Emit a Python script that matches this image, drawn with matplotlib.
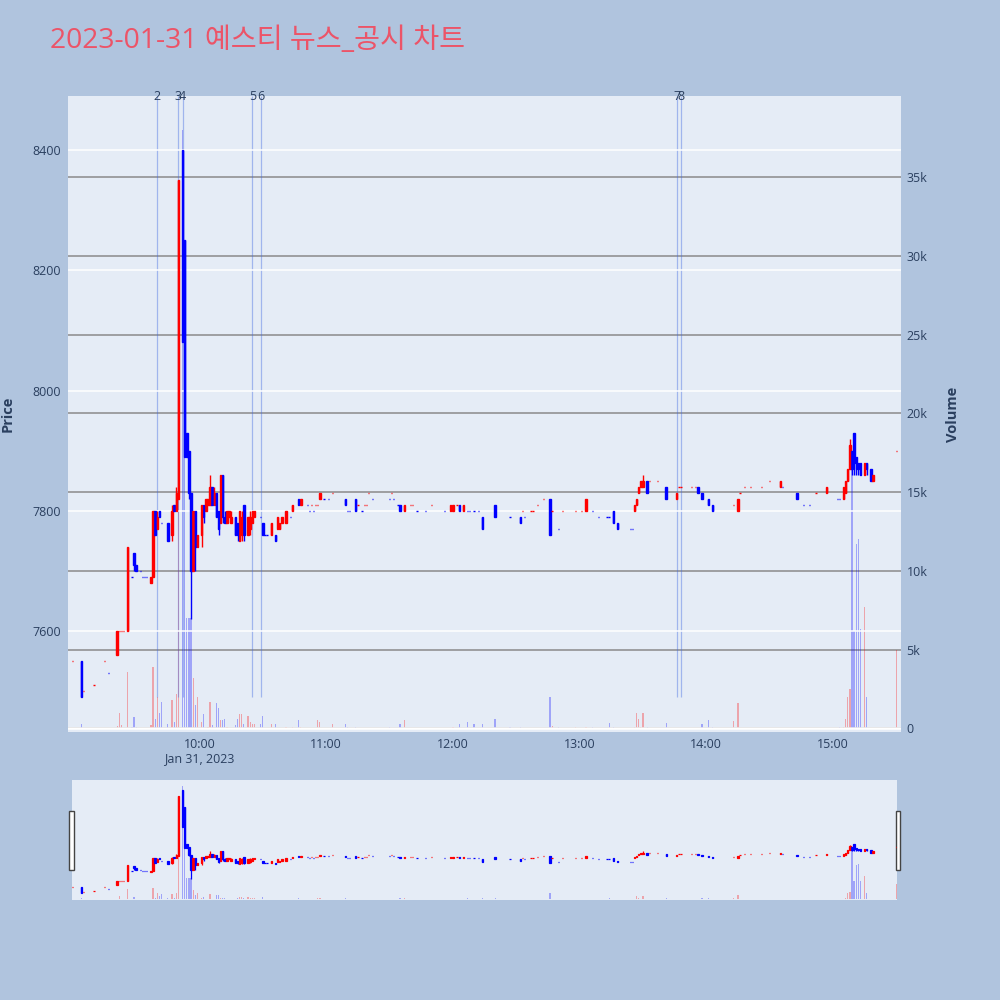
import matplotlib
matplotlib.use("Agg")
import matplotlib.pyplot as plt
import matplotlib.dates as mdates
import matplotlib.transforms as mtransforms
from matplotlib.patches import Rectangle
from matplotlib.ticker import FixedLocator, FuncFormatter
import pandas as pd

plt.rcParams["font.family"] = ["Open Sans", "DejaVu Sans"]

day = "2023-01-31"
title = "2023-01-31 예스티 뉴스_공시 차트"

# 1-minute candles (only minutes with trades)
times = [
    "09:00", "09:04", "09:05", "09:10", "09:15", "09:17", "09:21", "09:22", "09:23", "09:24",
    "09:26", "09:28", "09:29", "09:30", "09:32", "09:33", "09:34", "09:35", "09:37", "09:38",
    "09:39", "09:40", "09:41", "09:42", "09:45", "09:47", "09:48", "09:49", "09:50", "09:52",
    "09:53", "09:54", "09:55", "09:56", "09:57", "09:58", "09:59", "10:01", "10:02", "10:03",
    "10:04", "10:05", "10:06", "10:07", "10:08", "10:09", "10:10", "10:11", "10:12", "10:13",
    "10:14", "10:15", "10:17", "10:18", "10:19", "10:20", "10:21", "10:23", "10:24", "10:25",
    "10:26", "10:29", "10:30", "10:31", "10:32", "10:34", "10:36", "10:37", "10:38", "10:39",
    "10:41", "10:43", "10:44", "10:47", "10:48", "10:51", "10:52", "10:53", "10:54", "10:55",
    "10:56", "10:57", "10:59", "11:01", "11:03", "11:09", "11:10", "11:11", "11:14", "11:15",
    "11:17", "11:18", "11:19", "11:20", "11:22", "11:30", "11:31", "11:32", "11:34", "11:35",
    "11:37", "11:40", "11:41", "11:43", "11:47", "11:50", "11:56", "11:59", "12:00", "12:02",
    "12:03", "12:05", "12:07", "12:08", "12:10", "12:12", "12:14", "12:20", "12:27", "12:32",
    "12:33", "12:34", "12:37", "12:38", "12:40", "12:43", "12:46", "12:47", "12:50", "12:52",
    "12:58", "13:01", "13:03", "13:06", "13:09", "13:13", "13:14", "13:16", "13:18", "13:24",
    "13:25", "13:26", "13:27", "13:28", "13:29", "13:30", "13:32", "13:33", "13:37", "13:41",
    "13:46", "13:47", "13:48", "13:53", "13:55", "13:56", "13:58", "14:01", "14:03", "14:13",
    "14:15", "14:16", "14:18", "14:21", "14:26", "14:30", "14:35", "14:36", "14:43", "14:46",
    "14:49", "14:52", "14:57", "15:02", "15:03", "15:05", "15:06", "15:07", "15:08", "15:09",
    "15:10", "15:11", "15:12", "15:13", "15:15", "15:16", "15:18", "15:19", "15:30",
]
opens = [
    7550, 7550, 7500, 7510, 7550, 7530, 7560, 7600, 7600, 7600,
    7600, 7690, 7730, 7710, 7700, 7690, 7690, 7690, 7680, 7690,
    7800, 7770, 7800, 7780, 7780, 7760, 7810, 7800, 7820, 8400,
    8250, 7930, 7900, 7830, 7700, 7800, 7740, 7760, 7810, 7800,
    7810, 7810, 7840, 7810, 7830, 7800, 7780, 7860, 7790, 7780,
    7790, 7780, 7790, 7780, 7750, 7760, 7810, 7760, 7770, 7780,
    7790, 7790, 7780, 7760, 7760, 7760, 7760, 7770, 7770, 7780,
    7780, 7790, 7800, 7820, 7810, 7810, 7800, 7810, 7800, 7810,
    7810, 7820, 7820, 7820, 7830, 7820, 7800, 7800, 7820, 7810,
    7800, 7810, 7810, 7830, 7820, 7820, 7830, 7820, 7810, 7810,
    7800, 7810, 7810, 7800, 7800, 7810, 7800, 7800, 7800, 7810,
    7810, 7800, 7800, 7800, 7800, 7800, 7790, 7810, 7790, 7790,
    7800, 7790, 7800, 7800, 7810, 7820, 7820, 7800, 7770, 7800,
    7800, 7800, 7800, 7800, 7790, 7790, 7790, 7800, 7780, 7770,
    7770, 7800, 7810, 7830, 7840, 7840, 7850, 7850, 7850, 7840,
    7820, 7840, 7840, 7840, 7840, 7840, 7830, 7820, 7810, 7810,
    7800, 7830, 7840, 7840, 7840, 7850, 7840, 7840, 7830, 7810,
    7810, 7830, 7830, 7820, 7820, 7820, 7830, 7850, 7870, 7900,
    7930, 7890, 7880, 7880, 7860, 7880, 7870, 7850, 7900,
]
highs = [
    7550, 7550, 7500, 7510, 7550, 7530, 7600, 7600, 7600, 7600,
    7740, 7690, 7730, 7710, 7700, 7690, 7690, 7690, 7690, 7800,
    7800, 7800, 7800, 7780, 7780, 7810, 7810, 7840, 8350, 8400,
    8250, 7930, 7900, 7830, 7800, 7800, 7760, 7810, 7810, 7820,
    7820, 7860, 7840, 7840, 7830, 7800, 7860, 7860, 7800, 7800,
    7800, 7800, 7790, 7780, 7800, 7800, 7810, 7790, 7800, 7800,
    7800, 7790, 7780, 7760, 7760, 7780, 7760, 7790, 7780, 7790,
    7800, 7790, 7810, 7820, 7820, 7810, 7800, 7810, 7800, 7810,
    7810, 7830, 7820, 7820, 7830, 7820, 7800, 7800, 7820, 7810,
    7800, 7810, 7810, 7830, 7820, 7820, 7830, 7820, 7810, 7810,
    7810, 7810, 7810, 7800, 7800, 7810, 7800, 7810, 7810, 7810,
    7810, 7810, 7800, 7800, 7800, 7800, 7790, 7810, 7790, 7790,
    7800, 7790, 7800, 7800, 7810, 7820, 7820, 7800, 7770, 7800,
    7800, 7800, 7820, 7800, 7790, 7790, 7790, 7800, 7780, 7770,
    7770, 7810, 7820, 7840, 7850, 7860, 7850, 7850, 7850, 7840,
    7830, 7840, 7840, 7840, 7840, 7840, 7830, 7820, 7810, 7810,
    7820, 7830, 7840, 7840, 7840, 7850, 7850, 7840, 7830, 7810,
    7810, 7830, 7840, 7820, 7820, 7840, 7850, 7870, 7920, 7900,
    7930, 7890, 7880, 7880, 7880, 7880, 7870, 7860, 7900,
]
lows = [
    7550, 7490, 7500, 7510, 7550, 7530, 7560, 7600, 7600, 7600,
    7600, 7690, 7700, 7700, 7700, 7690, 7690, 7690, 7680, 7690,
    7760, 7770, 7790, 7780, 7750, 7750, 7800, 7800, 7820, 8080,
    7890, 7890, 7820, 7620, 7700, 7700, 7740, 7740, 7780, 7800,
    7810, 7810, 7810, 7810, 7790, 7760, 7780, 7780, 7780, 7780,
    7790, 7780, 7760, 7750, 7750, 7750, 7750, 7760, 7760, 7780,
    7790, 7790, 7760, 7760, 7760, 7760, 7750, 7770, 7770, 7780,
    7780, 7790, 7800, 7810, 7810, 7810, 7800, 7810, 7800, 7810,
    7810, 7820, 7820, 7820, 7830, 7810, 7800, 7800, 7800, 7810,
    7800, 7810, 7810, 7830, 7820, 7820, 7830, 7820, 7810, 7800,
    7800, 7810, 7810, 7800, 7800, 7810, 7800, 7800, 7800, 7810,
    7800, 7800, 7800, 7800, 7800, 7800, 7770, 7790, 7790, 7780,
    7800, 7790, 7800, 7800, 7810, 7820, 7760, 7800, 7770, 7800,
    7800, 7800, 7800, 7800, 7790, 7790, 7790, 7780, 7770, 7770,
    7770, 7800, 7810, 7830, 7840, 7840, 7830, 7850, 7850, 7820,
    7820, 7840, 7840, 7840, 7840, 7830, 7820, 7810, 7800, 7810,
    7800, 7830, 7840, 7840, 7840, 7850, 7840, 7840, 7820, 7810,
    7810, 7830, 7830, 7820, 7820, 7820, 7830, 7850, 7870, 7860,
    7860, 7860, 7860, 7860, 7860, 7860, 7850, 7850, 7900,
]
closes = [
    7550, 7490, 7500, 7510, 7550, 7530, 7600, 7600, 7600, 7600,
    7740, 7690, 7710, 7700, 7700, 7690, 7690, 7690, 7690, 7800,
    7760, 7790, 7790, 7780, 7750, 7800, 7800, 7830, 8350, 8080,
    7890, 7890, 7830, 7700, 7800, 7740, 7760, 7810, 7790, 7820,
    7820, 7840, 7810, 7830, 7790, 7770, 7860, 7790, 7780, 7800,
    7800, 7790, 7760, 7760, 7800, 7790, 7760, 7790, 7790, 7800,
    7800, 7790, 7760, 7760, 7760, 7780, 7750, 7790, 7780, 7790,
    7800, 7790, 7810, 7810, 7820, 7810, 7800, 7810, 7800, 7810,
    7810, 7830, 7820, 7820, 7830, 7810, 7800, 7800, 7800, 7810,
    7800, 7810, 7810, 7830, 7820, 7820, 7830, 7820, 7810, 7800,
    7810, 7810, 7810, 7800, 7800, 7810, 7800, 7810, 7810, 7810,
    7800, 7810, 7800, 7800, 7800, 7800, 7770, 7790, 7790, 7780,
    7800, 7790, 7800, 7800, 7810, 7820, 7760, 7800, 7770, 7800,
    7800, 7800, 7820, 7800, 7790, 7790, 7790, 7780, 7770, 7770,
    7770, 7810, 7820, 7840, 7850, 7850, 7830, 7850, 7850, 7820,
    7830, 7840, 7840, 7840, 7840, 7830, 7820, 7810, 7800, 7810,
    7820, 7830, 7840, 7840, 7840, 7850, 7850, 7840, 7820, 7810,
    7810, 7830, 7840, 7820, 7820, 7840, 7850, 7870, 7910, 7870,
    7880, 7870, 7870, 7860, 7880, 7870, 7850, 7860, 7900,
]
volumes = [
    50, 300, 20, 20, 40, 30, 150, 950, 200, 30,
    3600, 100, 700, 100, 30, 30, 30, 30, 200, 3900,
    600, 2000, 950, 1700, 300, 1800, 400, 2200, 25000, 38000,
    18000, 7000, 7000, 7000, 3200, 1500, 2000, 400, 900, 50,
    100, 1700, 200, 50, 1600, 1300, 500, 500, 570, 100,
    50, 50, 200, 570, 900, 900, 300, 750, 400, 300,
    300, 250, 800, 50, 50, 250, 250, 50, 30, 30,
    100, 50, 100, 500, 100, 50, 30, 30, 30, 30,
    500, 400, 50, 50, 250, 300, 100, 30, 100, 30,
    30, 30, 30, 30, 30, 100, 30, 30, 50, 300,
    500, 30, 30, 50, 30, 30, 30, 50, 100, 50,
    250, 50, 400, 30, 250, 30, 300, 570, 100, 100,
    30, 30, 30, 30, 30, 30, 2000, 150, 100, 30,
    100, 50, 100, 100, 30, 30, 350, 100, 50, 30,
    30, 100, 1000, 600, 100, 1000, 100, 30, 30, 350,
    50, 30, 30, 50, 30, 30, 300, 500, 100, 450,
    1600, 30, 50, 30, 30, 30, 30, 30, 50, 30,
    30, 30, 30, 30, 100, 100, 600, 2000, 2500, 17000,
    6200, 11700, 12000, 6300, 7700, 2000, 50, 50, 5000,
]

news_times = ["09:40", "09:50", "09:52", "10:25", "10:29", "13:46", "13:48"]
news_labels = ["2", "3", "4", "5", "6", "7", "8"]

BG = "#B0C4DE"
PLOT_BG = "#E5ECF6"
FONT_C = "#2a3f5f"
RED, BLUE = "#FF0000", "#0000FF"

x = mdates.date2num(pd.to_datetime([f"{day} {t}" for t in times]))
news_x = mdates.date2num(pd.to_datetime([f"{day} {t}" for t in news_times]))
x0 = mdates.date2num(pd.Timestamp(f"{day} 09:00"))
minute = 1 / 1440

# direction like plotly: flat candle follows the previous close / direction
up = []
for i, (o, c) in enumerate(zip(opens, closes)):
    if c != o:
        up.append(c > o)
    elif i > 0 and c != closes[i - 1]:
        up.append(c > closes[i - 1])
    else:
        up.append(up[-1] if up else True)
cols = [RED if u else BLUE for u in up]
vcols = [(1, 0, 0, 0.3) if u else (0, 0, 1, 0.3) for u in up]
bottoms = [min(o, c) for o, c in zip(opens, closes)]
heights = [abs(c - o) for o, c in zip(opens, closes)]

price_lim = (7432, 8490)
vol_lim = (-235, 40143)


def draw(axp, axv, lw):
    axv.bar(x, volumes, width=0.6 * minute, color=vcols, linewidth=0)
    axp.vlines(x, lows, highs, colors=cols, linewidth=lw)
    axp.bar(x, heights, bottom=bottoms, width=0.65 * minute,
            color=cols, edgecolor=cols, linewidth=lw)
    axp.set_ylim(*price_lim)
    axv.set_ylim(*vol_lim)
    axp.set_zorder(axv.get_zorder() + 1)
    axp.patch.set_visible(False)
    axv.patch.set_visible(True)
    axv.patch.set_facecolor(PLOT_BG)
    for a in (axp, axv):
        for s in a.spines.values():
            s.set_visible(False)


fig = plt.figure(figsize=(10, 10), dpi=100, facecolor=BG)

# main chart
ax = fig.add_axes([0.068, 0.268, 0.833, 0.636])
ax2 = ax.twinx()
ax2.yaxis.grid(True, color="#8a8a8a", linewidth=1.1)
ax2.axhline(0, color="white", linewidth=1.8)
ax2.vlines(news_x, 2000, vol_lim[1], colors=[(65 / 255, 105 / 255, 225 / 255, 0.42)],
           linewidth=0.9)
draw(ax, ax2, 1.0)
ax.yaxis.grid(True, color="white", linewidth=1.1)
ax.set_axisbelow(True)
ax2.set_axisbelow(True)
ax.set_xlim(x0 - 2.27 * minute, x0 + 392.2 * minute)

ax.set_yticks([7600, 7800, 8000, 8200, 8400])
ax2.set_yticks([0, 5000, 10000, 15000, 20000, 25000, 30000, 35000])
ax2.yaxis.set_major_formatter(FuncFormatter(lambda v, p: "0" if v == 0 else f"{int(v / 1000)}k"))

hours = pd.date_range(f"{day} 10:00", periods=6, freq="h")
hour_labels = [h.strftime("%H:%M") for h in hours]
hour_labels[0] += "\n" + hours[0].strftime("%b %d, %Y").replace(" 0", " ")
ax.xaxis.set_major_locator(FixedLocator(mdates.date2num(hours)))
ax.set_xticklabels(hour_labels)

for a in (ax, ax2):
    a.tick_params(length=0, labelsize=9, labelcolor=FONT_C)
ax.tick_params(axis="y", pad=5)
ax2.tick_params(axis="y", pad=4)
ax.tick_params(axis="x", pad=4)

ax.set_ylabel("Price", fontsize=10.5, fontweight="bold", color=FONT_C)
ax.yaxis.set_label_coords(-0.064, 0.5)
ax2.set_ylabel("Volume", fontsize=10.5, fontweight="bold", color=FONT_C)
ax2.yaxis.set_label_coords(1.054, 0.5)

trans = mtransforms.blended_transform_factory(ax.transData, ax.transAxes)
for nx, lab in zip(news_x, news_labels):
    ax.text(nx, 0.999, lab, transform=trans, ha="center", va="center",
            fontsize=9, color=FONT_C)

# range slider
sl = fig.add_axes([0.072, 0.1, 0.825, 0.12])
sl2 = sl.twinx()
draw(sl, sl2, 0.9)
sl.set_xlim(x0 - 0.38 * minute, x0 + 390.3 * minute)
for a in (sl, sl2):
    a.set_xticks([])
    a.set_yticks([])
for hx in (0.0693, 0.8955):
    fig.add_artist(Rectangle((hx, 0.130), 0.0044, 0.0593, transform=fig.transFigure,
                             facecolor="white", edgecolor="#444444", linewidth=1))

fig.text(0.05, 0.959, title, fontsize=20.3, color="#EC5468", va="center", ha="left",
         family=["Open Sans", "Noto Sans CJK KR"])

fig.savefig("out.png", dpi=100, facecolor=BG)
